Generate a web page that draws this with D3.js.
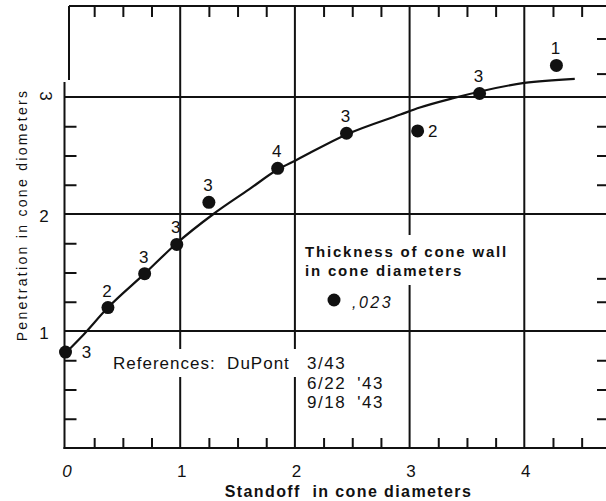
<!DOCTYPE html>
<html>
<head>
<meta charset="utf-8">
<script src="https://cdn.jsdelivr.net/npm/d3@7"></script>
<style>
  html, body { margin: 0; padding: 0; background: #fff; }
  svg { display: block; }
  text { font-family: "Liberation Sans", Arial, Helvetica, sans-serif; fill: #111; }
</style>
</head>
<body>
<svg id="chart" width="606" height="501"></svg>
<script>
// Penetration of lined cone charges against standoff, both in cone diameters.
const standoff    = [0.0, 0.37, 0.69, 0.97, 1.25, 1.85, 2.45, 3.07, 3.61, 4.28];
const penetration = [0.82, 1.20, 1.49, 1.74, 2.10, 2.39, 2.69, 2.71, 3.03, 3.27];
const shots       = [3, 2, 3, 3, 3, 4, 3, 2, 3, 1];

// Hand-faired curve through the measurements
const fitStandoff    = [0, 0.14, 0.37, 0.69, 0.97, 1.29, 1.6, 1.85, 2.01, 2.45, 2.92, 3.09, 3.38, 4.0, 4.44];
const fitPenetration = [0.81, 0.95, 1.20, 1.49, 1.75, 2.00, 2.21, 2.38, 2.46, 2.68, 2.85, 2.91, 2.99, 3.12, 3.155];

const xTickValues = [0, 1, 2, 3, 4];
const xTickLabels = ["0", "1", "2", "3", "4"];
const yTickValues = [1, 2, 3];
const yTickLabels = ["1", "2", "3"];
const xMinorTicks = [0.25, 0.5, 0.75, 1.25, 1.5, 1.75, 2.25, 2.5, 2.75, 3.25, 3.5, 3.75, 4.25, 4.5];
const yMinorLeft  = [0.25, 0.5, 0.75, 1.25, 1.5, 1.75, 2.25, 2.5, 2.75];
const yMinorRight = [0.25, 0.5, 0.75, 1.25, 1.45, 2.25, 2.5, 2.75, 3.2, 3.5];

const legendTitle = ["Thickness of cone wall", "in cone diameters"];
const legendValue = ",023";
const referenceLead = "References:  DuPont";
const referenceDates = ["3/43", "6/22 '43", "9/18 '43"];
const xTitle = "Standoff  in cone diameters";
const yTitle = "Penetration in cone diometers";

const svg = d3.select("#chart");
const W = 606, H = 501;
const ink = "#111";

const x = d3.scaleLinear().domain([0, 4]).range([65.5, 524.3]);
const y = d3.scaleLinear().domain([0, 3]).range([448, 97]);
const yTop = 6;

const frame = svg.append("g").attr("stroke", ink).attr("stroke-width", 2).attr("fill", "none");

// grid lines at whole cone diameters
frame.selectAll("line.gx").data(xTickValues.slice(1)).join("line")
  .attr("x1", d => x(d)).attr("x2", d => x(d))
  .attr("y1", yTop).attr("y2", y(0));
frame.selectAll("line.gy").data(yTickValues).join("line")
  .attr("x1", x(0) - 1).attr("x2", W)
  .attr("y1", d => y(d)).attr("y2", d => y(d));

// outer frame (left edge is stepped near the top)
frame.append("line").attr("x1", x(0) + 3.5).attr("x2", W).attr("y1", yTop).attr("y2", yTop);
frame.append("line").attr("x1", x(0) + 3.5).attr("x2", x(0) + 3.5).attr("y1", yTop).attr("y2", 80);
frame.append("line").attr("x1", x(0) - 1).attr("x2", x(0) - 1).attr("y1", 82).attr("y2", y(0) + 1);
frame.append("line").attr("x1", x(0) - 2).attr("x2", W).attr("y1", y(0)).attr("y2", y(0));

// minor ticks on all four sides
function minor(axis, tx, ty) {
  const g = svg.append("g").attr("transform", `translate(${tx},${ty})`).call(axis);
  g.select(".domain").remove();
  g.selectAll("text").remove();
  g.selectAll("line").attr("stroke", ink).attr("stroke-width", 2);
}
minor(d3.axisBottom(x).tickValues(xMinorTicks).tickSize(-10), 0, y(0));
minor(d3.axisTop(x).tickValues(xMinorTicks).tickSize(-11), 0, yTop);
minor(d3.axisLeft(y).tickValues(yMinorLeft).tickSize(-12), x(0) - 1, 0);
minor(d3.axisRight(y).tickValues(yMinorRight).tickSize(-9), W, 0);

// clear the rules behind the text blocks
svg.append("rect").attr("x", 110).attr("y", 349).attr("width", 190).attr("height", 28).attr("fill", "#fff");
svg.append("rect").attr("x", 300).attr("y", 235).attr("width", 212).attr("height", 50).attr("fill", "#fff");

// faired curve
const line = d3.line().x(d => x(d[0])).y(d => y(d[1])).curve(d3.curveMonotoneX);
svg.append("path")
  .datum(fitStandoff.map((s, i) => [s, fitPenetration[i]]))
  .attr("d", line)
  .attr("fill", "none").attr("stroke", ink).attr("stroke-width", 2.2);

// measured points with number of shots
const pts = standoff.map((s, i) => ({ s, p: penetration[i], n: shots[i], i }));
const rightLabelled = new Set([0, 7]);
svg.selectAll("circle.pt").data(pts).join("circle")
  .attr("cx", d => x(d.s)).attr("cy", d => y(d.p)).attr("r", 6.5).attr("fill", ink);
svg.selectAll("text.n").data(pts).join("text")
  .attr("x", d => rightLabelled.has(d.i) ? x(d.s) + (d.i === 0 ? 21 : 15) : x(d.s) - 1)
  .attr("y", d => rightLabelled.has(d.i) ? y(d.p) + 6 : y(d.p) - 11)
  .attr("text-anchor", "middle")
  .attr("font-size", 17)
  .text(d => d.n);

// axis labels
svg.selectAll("text.xt").data(xTickValues).join("text")
  .attr("x", d => x(d) + 1.5).attr("y", 477)
  .attr("text-anchor", "middle").attr("font-size", 17)
  .attr("font-style", (d, i) => i === 0 ? "italic" : "normal")
  .text((d, i) => xTickLabels[i]);
svg.selectAll("text.yt").data(yTickValues).join("text")
  .attr("transform", d => d === 3
    ? `translate(45.5,${y(d) - 1}) rotate(90)`
    : `translate(44,${y(d) + 2})`)
  .attr("dy", "0.35em")
  .attr("text-anchor", "middle").attr("font-size", 17)
  .text((d, i) => yTickLabels[i]);

svg.append("text")
  .attr("x", 348.5).attr("y", 497)
  .attr("text-anchor", "middle")
  .attr("font-size", 16).attr("font-weight", "bold")
  .attr("letter-spacing", 1.4)
  .style("white-space", "pre")
  .text(xTitle);
svg.append("text")
  .attr("transform", "translate(27,215) rotate(-90)")
  .attr("text-anchor", "middle")
  .attr("font-size", 14).attr("letter-spacing", 2.3)
  .text(yTitle);

// legend
svg.selectAll("text.lg").data(legendTitle).join("text")
  .attr("x", 305).attr("y", (d, i) => 257 + i * 19)
  .attr("font-size", 15).attr("font-weight", "bold")
  .attr("letter-spacing", 1.8)
  .text(d => d);
svg.append("circle").attr("cx", 334).attr("cy", 300).attr("r", 6.5).attr("fill", ink);
svg.append("text")
  .attr("x", 352).attr("y", 308)
  .attr("font-size", 16).attr("font-style", "italic").attr("letter-spacing", 2.5)
  .text(legendValue);

// references
svg.append("text")
  .attr("x", 113).attr("y", 369)
  .attr("font-size", 17).attr("letter-spacing", 1)
  .style("white-space", "pre")
  .text(referenceLead);
svg.selectAll("text.ref").data(referenceDates).join("text")
  .attr("x", 307).attr("y", (d, i) => 369 + i * 19.5)
  .attr("font-size", 17).attr("letter-spacing", 1.5).attr("word-spacing", 5)
  .text(d => d);
</script>
</body>
</html>
